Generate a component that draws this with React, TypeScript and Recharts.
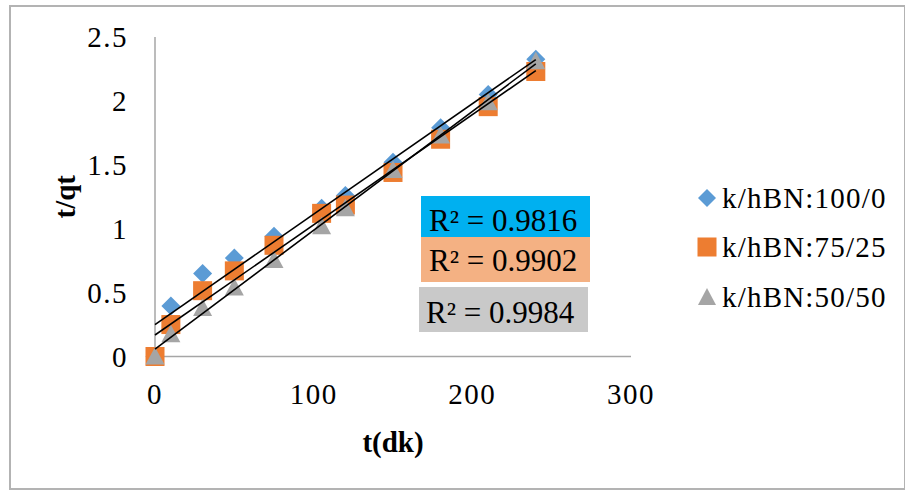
import { Label, Legend, Scatter, ScatterChart, XAxis, YAxis } from "recharts";

const TIME = [0, 10, 30, 50, 75, 105, 120, 150, 180, 210, 240];
const Q_100_0 = [0, 0.395, 0.65, 0.77, 0.94, 1.16, 1.26, 1.52, 1.79, 2.05, 2.325];
const Q_75_25 = [0, 0.25, 0.515, 0.67, 0.87, 1.12, 1.185, 1.44, 1.7, 1.955, 2.23];
const Q_50_50 = [0, 0.175, 0.38, 0.54, 0.755, 1.02, 1.16, 1.46, 1.73, 1.99, 2.31];

const SERIES_NAMES = ["k/hBN:100/0", "k/hBN:75/25", "k/hBN:50/50"];
const R2_LABELS = ["R² = 0.9816", "R² = 0.9902", "R² = 0.9984"];
const X_TICKS = [0, 100, 200, 300];
const Y_TICKS = [0, 0.5, 1, 1.5, 2, 2.5];

const FONT = "Liberation Serif, Times New Roman, serif";
const AXIS_GRAY = "#a6a6a6";

const toPoints = (ys: number[]) => TIME.map((x, i) => ({ x, y: ys[i] }));

// least-squares line, drawn from first to last time like the Excel trendline
function trend(ys: number[]) {
  const n = TIME.length;
  const mx = TIME.reduce((a, b) => a + b, 0) / n;
  const my = ys.reduce((a, b) => a + b, 0) / n;
  let sxy = 0;
  let sxx = 0;
  TIME.forEach((x, i) => {
    sxy += (x - mx) * (ys[i] - my);
    sxx += (x - mx) * (x - mx);
  });
  const slope = sxy / sxx;
  const icpt = my - slope * mx;
  const x0 = TIME[0];
  const x1 = TIME[n - 1];
  return [
    { x: x0, y: icpt + slope * x0 },
    { x: x1, y: icpt + slope * x1 },
  ];
}

const Diamond = ({ cx, cy }: any) => (
  <path d={`M${cx},${cy - 9.5}L${cx + 9.5},${cy}L${cx},${cy + 9.5}L${cx - 9.5},${cy}Z`} fill="#5b9bd5" />
);
const Square = ({ cx, cy }: any) => <rect x={cx - 9.5} y={cy - 9.5} width={19} height={19} fill="#ed7d31" />;
const Triangle = ({ cx, cy }: any) => (
  <polygon points={`${cx},${cy - 9.5} ${cx + 9.5},${cy + 8} ${cx - 9.5},${cy + 8}`} fill="#a5a5a5" />
);
const NoDot = () => <g />;

const SERIES = [
  { name: SERIES_NAMES[0], data: Q_100_0, shape: Diamond },
  { name: SERIES_NAMES[1], data: Q_75_25, shape: Square },
  { name: SERIES_NAMES[2], data: Q_50_50, shape: Triangle },
];

const R2_BOXES = [
  { text: R2_LABELS[0], bg: "#00b0f0", left: 421, top: 196, w: 169, h: 41, pad: 8, ty: 7.5 },
  { text: R2_LABELS[1], bg: "#f4b183", left: 421, top: 237, w: 169, h: 45, pad: 8, ty: 6.5 },
  { text: R2_LABELS[2], bg: "#c9c9c9", left: 419, top: 287, w: 169, h: 45, pad: 7, ty: 8.5 },
];

function LegendBox() {
  const rows = [23, 72, 122];
  return (
    <svg width={210} height={150}>
      <path d="M17,14L26,23L17,32L8,23Z" fill="#5b9bd5" />
      <rect x={7.5} y={62.5} width={19} height={19} fill="#ed7d31" />
      <polygon points="17,113 26,130 8,130" fill="#a5a5a5" />
      {SERIES_NAMES.map((name, i) => (
        <text key={name} x={32} y={rows[i] + 10} fontSize={29} letterSpacing={1.2} fontFamily={FONT} fill="#000">
          {name}
        </text>
      ))}
    </svg>
  );
}

export default function App() {
  const tick = { fontSize: 29, fill: "#000", fontFamily: FONT, letterSpacing: 1.5 };
  return (
    <div style={{ position: "absolute", left: 0, top: 0, width: 905, height: 490, background: "#fff", fontFamily: FONT }}>
      <div
        style={{
          position: "absolute",
          left: 9,
          top: 5,
          width: 893,
          height: 481,
          border: "2px solid #b3b3b3",
        }}
      />
      {/* the legend below takes 210px off the right side, so the margin is 274 - 210 */}
      <ScatterChart width={905} height={490} margin={{ top: 37, right: 64, bottom: 0, left: 0 }}>
        <XAxis
          type="number"
          dataKey="x"
          domain={[0, 300]}
          ticks={X_TICKS}
          height={133.5}
          tickLine={false}
          tickSize={0}
          tickMargin={27}
          stroke={AXIS_GRAY}
          strokeWidth={1.5}
          tick={tick}
        >
          <Label
            content={({ viewBox }: any) => (
              <text
                x={viewBox.x + viewBox.width / 2}
                y={viewBox.y + 95}
                textAnchor="middle"
                fontSize={29}
                fontWeight="bold"
                fontFamily={FONT}
                fill="#000"
              >
                t(dk)
              </text>
            )}
          />
        </XAxis>
        <YAxis
          type="number"
          dataKey="y"
          domain={[0, 2.5]}
          ticks={Y_TICKS}
          width={155}
          tickLine={false}
          tickSize={0}
          tickMargin={27}
          stroke={AXIS_GRAY}
          strokeWidth={1.5}
          tick={tick}
        >
          <Label
            content={({ viewBox }: any) => {
              const cx = viewBox.x + 65;
              const cy = viewBox.y + viewBox.height / 2;
              return (
                <text
                  x={cx}
                  y={cy}
                  transform={`rotate(-90 ${cx} ${cy})`}
                  textAnchor="middle"
                  dy={10}
                  fontSize={29}
                  fontWeight="bold"
                  fontFamily={FONT}
                  fill="#000"
                >
                  t/qt
                </text>
              );
            }}
          />
        </YAxis>
        {SERIES.map((s) => (
          <Scatter
            key={s.name}
            name={s.name}
            data={toPoints(s.data)}
            shape={s.shape}
            isAnimationActive={false}
          />
        ))}
        {SERIES.map((s) => (
          <Scatter
            key={s.name + "-trend"}
            data={trend(s.data)}
            shape={NoDot}
            line={{ stroke: "#000", strokeWidth: 1.6 }}
            legendType="none"
            isAnimationActive={false}
          />
        ))}
        <Legend
          layout="horizontal"
          verticalAlign="middle"
          align="right"
          content={() => <LegendBox />}
          wrapperStyle={{ left: 690, top: 175, width: 210, height: 150 }}
        />
      </ScatterChart>
      {R2_BOXES.map((b) => (
        <div
          key={b.text}
          style={{
            position: "absolute",
            left: b.left,
            top: b.top,
            width: b.w,
            height: b.h,
            background: b.bg,
          }}
        >
          <span
            style={{
              position: "absolute",
              left: b.pad,
              top: b.ty,
              lineHeight: "34px",
              fontSize: 31,
              color: "#000",
              whiteSpace: "nowrap",
            }}
          >
            {b.text}
          </span>
        </div>
      ))}
    </div>
  );
}
